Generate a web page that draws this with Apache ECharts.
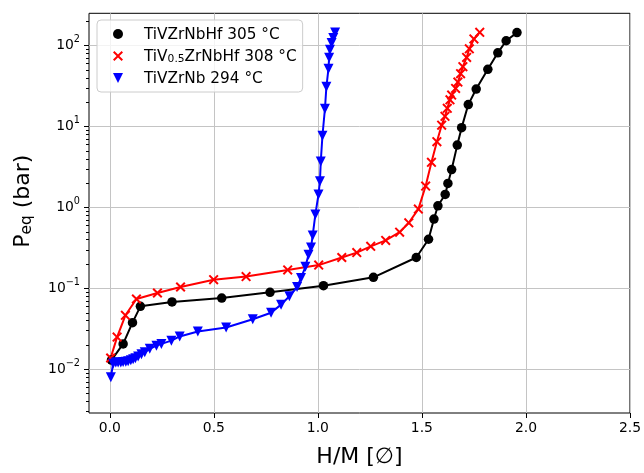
<!DOCTYPE html>
<html>
<head>
<meta charset="utf-8">
<script src="https://cdn.jsdelivr.net/npm/echarts@6/dist/echarts.min.js"></script>
<style>
  html, body { margin: 0; padding: 0; background: #fff; }
  #chart { width: 644px; height: 473px; }
</style>
</head>
<body>
<div id="chart"></div>
<script>
// Equilibrium pressure vs hydrogen content (H/M) for three alloys.
const FONT = 'DejaVu Sans';

const hfName = 'TiVZrNbHf 305 °C';
const hfX = [0.008, 0.064, 0.109, 0.147, 0.299, 0.538, 0.770, 1.027, 1.267, 1.473, 1.532, 1.558,
             1.577, 1.612, 1.625, 1.643, 1.670, 1.691, 1.723, 1.761, 1.817, 1.865, 1.905, 1.957];
const hfP = [0.0130, 0.0206, 0.0377, 0.060, 0.068, 0.076, 0.0894, 0.108, 0.137, 0.241, 0.405, 0.72,
             1.05, 1.45, 1.98, 2.94, 5.9, 9.7, 18.7, 29.1, 51, 81.5, 115, 145];

const v05Name = 'TiV0.5ZrNbHf 308 °C';
const v05X = [0.004, 0.035, 0.075, 0.128, 0.229, 0.340, 0.499, 0.655, 0.855, 1.004, 1.115, 1.187,
              1.254, 1.326, 1.393, 1.437, 1.483, 1.518, 1.546, 1.572, 1.595, 1.611, 1.622, 1.635,
              1.643, 1.662, 1.673, 1.686, 1.697, 1.715, 1.728, 1.750, 1.778];
const v05P = [0.0138, 0.025, 0.0465, 0.074, 0.0877, 0.104, 0.128, 0.140, 0.169, 0.194, 0.241, 0.277,
              0.331, 0.392, 0.496, 0.647, 0.955, 1.84, 3.62, 6.5, 10.4, 13.4, 16.8, 21.4,
              24.5, 29.6, 35.5, 45, 55, 71.5, 91.5, 121, 146];

const nbName = 'TiVZrNb 294 °C';
const nbX = [0.005, 0.016, 0.029, 0.040, 0.053, 0.064, 0.077, 0.088, 0.101, 0.112, 0.123, 0.136,
             0.152, 0.168, 0.192, 0.224, 0.248, 0.296, 0.336, 0.423, 0.559, 0.687, 0.775, 0.823,
             0.863, 0.900, 0.919, 0.940, 0.955, 0.967, 0.975, 0.988, 1.003, 1.010, 1.014, 1.022,
             1.034, 1.041, 1.051, 1.054, 1.058, 1.066, 1.074, 1.083];
const nbP = [0.0080, 0.0117, 0.0121, 0.0121, 0.0121, 0.0123, 0.0124, 0.0126, 0.0129, 0.0133, 0.0137, 0.0144,
             0.0153, 0.0163, 0.0179, 0.0196, 0.0206, 0.0226, 0.0255, 0.0293, 0.0328, 0.0415, 0.050, 0.063,
             0.080, 0.104, 0.134, 0.185, 0.26, 0.32, 0.45, 0.82, 1.45, 2.11, 3.7, 7.7,
             16.6, 31, 52, 71, 89, 108, 124, 145];

// Axis ticks: H/M linear, pressure on decades (log10)
const xTicks = [0, 0.5, 1.0, 1.5, 2.0, 2.5];
const yDecades = [-2, -1, 0, 1, 2];
const xRange = [-0.1, 2.5];
const yRangeLog = [-2.54, 2.40];

const yMinor = [];
for (let e = -3; e <= 2; e++) {
  for (let k = 2; k <= 9; k++) {
    const v = Math.log10(k * Math.pow(10, e));
    if (v > yRangeLog[0] && v < yRangeLog[1]) yMinor.push(v);
  }
}
const yAllTicks = yDecades.concat(yMinor).sort((a, b) => a - b);
// grid lines only at the decades; minor positions get a transparent line
const GRID_COLOR = '#c4c4c4';
const yGridColors = yAllTicks.map(v => (yDecades.indexOf(v) >= 0 ? GRID_COLOR : 'rgba(0,0,0,0)'));

const toPts = (xs, ps) => xs.map((x, i) => [x, Math.log10(ps[i])]);

const crossPath = 'path://M0,1.4L1.4,0L5,3.6L8.6,0L10,1.4L6.4,5L10,8.6L8.6,10L5,6.4L1.4,10L0,8.6L3.6,5Z';
const triDownPath = 'path://M0,0L10,0L5,10Z';

const chart = echarts.init(document.getElementById('chart'), null, { renderer: 'canvas' });

const baseSeries = (name, data, color, symbol, size) => ({
  type: 'line',
  name: name,
  data: data,
  symbol: symbol,
  symbolSize: size,
  symbolKeepAspect: true,
  showAllSymbol: true,
  lineStyle: { color: color, width: 2 },
  itemStyle: { color: color, borderWidth: 0 },
  emphasis: { disabled: true },
  animation: false,
  z: 3
});

chart.setOption({
  animation: false,
  grid: {
    left: 89, right: 12.5, top: 13.3, bottom: 54.7,
    show: true, borderColor: '#000', borderWidth: 1, backgroundColor: '#fff'
  },
  legend: {
    orient: 'vertical',
    left: 97, top: 20,
    padding: [5, 6, 5, 16],
    itemGap: 4,
    itemWidth: 42,
    itemHeight: 10,
    backgroundColor: 'rgba(255,255,255,0.8)',
    borderColor: '#cccccc',
    borderWidth: 1,
    borderRadius: 4,
    selectedMode: false,
    textStyle: {
      fontFamily: FONT, fontSize: 15.3, color: '#000', lineHeight: 18,
      rich: {
        m: { fontFamily: FONT, fontSize: 15.3, color: '#000', lineHeight: 18, verticalAlign: 'bottom' },
        sub: { fontFamily: FONT, fontSize: 10.7, color: '#000', lineHeight: 12, verticalAlign: 'bottom' }
      }
    },
    formatter: function (name) {
      if (name === v05Name) return '{m|TiV}{sub|0.5}{m|ZrNbHf 308 °C}';
      return '{m|' + name + '}';
    },
    data: [
      { name: hfName, icon: 'circle' },
      { name: v05Name, icon: crossPath },
      { name: nbName, icon: triDownPath }
    ]
  },
  xAxis: {
    type: 'value',
    min: xRange[0], max: xRange[1],
    name: 'H/M [∅]',
    nameLocation: 'middle',
    nameGap: 33,
    nameTextStyle: { fontFamily: FONT, fontSize: 22, color: '#000' },
    axisLine: { show: false, onZero: false },
    axisTick: { show: true, customValues: xTicks, length: 5, lineStyle: { color: '#000', width: 1 } },
    axisLabel: {
      customValues: xTicks, margin: 8,
      fontFamily: FONT, fontSize: 13.9, color: '#000',
      formatter: v => v.toFixed(1)
    },
    splitLine: { show: true, lineStyle: { color: GRID_COLOR, width: 1 } }
  },
  yAxis: [
    {
      type: 'value',
      min: yRangeLog[0], max: yRangeLog[1],
      name: '{p|P}{sub|eq}{p| (bar)}',
      nameLocation: 'middle',
      nameGap: 55,
      nameRotate: 90,
      nameTextStyle: {
        fontFamily: FONT, fontSize: 22, color: '#000',
        padding: [0, 0, 0, 24],
        rich: {
          p: { fontFamily: FONT, fontSize: 22, color: '#000', lineHeight: 26, verticalAlign: 'bottom' },
          sub: { fontFamily: FONT, fontSize: 15.4, color: '#000', lineHeight: 16, verticalAlign: 'bottom' }
        }
      },
      axisLine: { show: false, onZero: false },
      // ticks at every decade subdivision
      axisTick: { show: true, customValues: yAllTicks, length: 3, lineStyle: { color: '#000', width: 1 } },
      axisLabel: {
        customValues: yDecades, margin: 9,
        fontFamily: FONT, color: '#000',
        formatter: function (v) {
          const e = Math.round(v);
          const s = e < 0 ? '\u2212' + (-e) : String(e);
          return '{b|10}{s|' + s + '}';
        },
        rich: {
          b: { fontFamily: FONT, fontSize: 13.9, color: '#000', lineHeight: 14, verticalAlign: 'middle' },
          s: { fontFamily: FONT, fontSize: 9.7, color: '#000', lineHeight: 10, verticalAlign: 'middle', padding: [0, 0, 12, 0] }
        }
      },
      splitLine: { show: true, lineStyle: { color: yGridColors, width: 1 } }
    },
    {
      // longer ticks at the decades
      type: 'value',
      show: true,
      min: yRangeLog[0], max: yRangeLog[1],
      position: 'left',
      offset: 0,
      axisLine: { show: false, onZero: false },
      axisTick: { show: true, customValues: yDecades, length: 5, lineStyle: { color: '#000', width: 1 } },
      axisLabel: { show: false, customValues: yDecades },
      splitLine: { show: false }
    }
  ],
  series: [
    baseSeries(hfName, toPts(hfX, hfP), '#000000', 'circle', 9.5),
    baseSeries(v05Name, toPts(v05X, v05P), '#ff0000', crossPath, 10),
    baseSeries(nbName, toPts(nbX, nbP), '#0000ff', triDownPath, 10)
  ]
});
</script>
</body>
</html>
